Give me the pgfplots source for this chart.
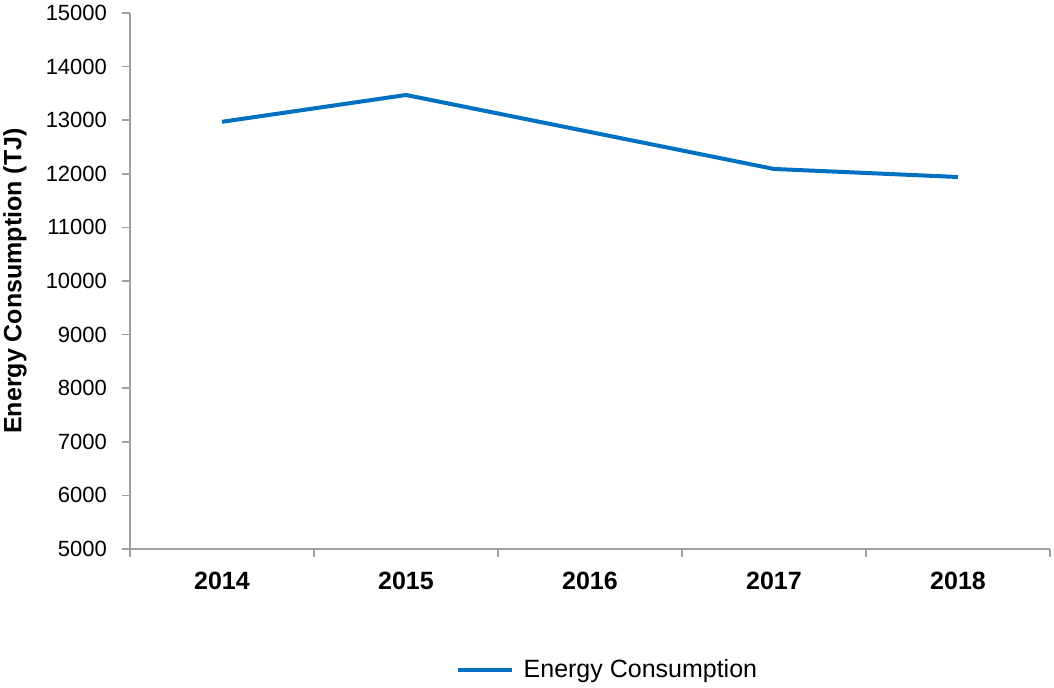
\documentclass[border=0pt]{standalone}
\usepackage{fontspec}
\setmainfont{Liberation Sans}
\usepackage{pgfplots}
\pgfplotsset{compat=1.18}
\definecolor{lineblue}{HTML}{0070C0}
\definecolor{axgray}{HTML}{A0A0A0}
\begin{document}
\begin{tikzpicture}
\begin{axis}[
  scale only axis,
  width=460pt, height=268pt,
  xmin=-0.5, xmax=4.5,
  ymin=5000, ymax=15000,
  axis x line*=bottom, axis y line*=left,
  axis line style={axgray, line width=0.8pt},
  every tick/.style={axgray, line width=0.8pt},
  tick align=outside,
  major tick length=4pt,
  xtick={-0.5,0.5,...,4.5},
  xticklabels={},
  extra x ticks={0,1,2,3,4},
  extra x tick labels={2014,2015,2016,2017,2018},
  extra x tick style={major tick length=0pt, tick label style={font=\fontsize{12.5}{14}\selectfont\bfseries, yshift=-8pt}},
  ytick={5000,6000,...,15000},
  scaled y ticks=false,
  /pgf/number format/assume math mode=true,
  /pgf/number format/set thousands separator={},
  y tick label style={font=\fontsize{11}{13}\selectfont, xshift=-4pt},
  ylabel={Energy Consumption (TJ)},
  every axis y label/.style={at={(axis description cs:-0.125,0.5)}, rotate=90, anchor=center, font=\fontsize{12.5}{14}\selectfont\bfseries},
  legend style={at={(axis description cs:0.52,-0.2257)}, anchor=center, draw=none, font=\fontsize{12.5}{14}\selectfont, legend cell align=left},
  legend image code/.code={\draw[#1] (0pt,0pt) -- (27pt,0pt);},
  clip=false,
]
\addplot[lineblue, line width=2pt] coordinates {(0,12970) (1,13470) (2,12780) (3,12090) (4,11940)};
\addlegendentry{\hspace{3pt}Energy Consumption}
\end{axis}
\pgfresetboundingbox
\useasboundingbox ([xshift=-65pt,yshift=-69.5pt]current axis.south west) rectangle ([xshift=2pt,yshift=6.5pt]current axis.north east);
\end{tikzpicture}
\end{document}
